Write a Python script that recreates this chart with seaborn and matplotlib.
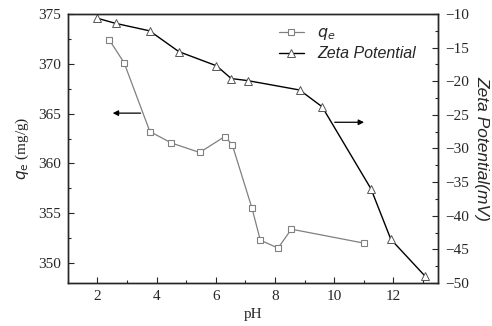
import numpy as np
import pandas as pd
import seaborn as sns
import matplotlib.pyplot as plt

# qe vs pH (left axis)
ph_q = [2.4, 2.9, 3.77, 4.5, 5.45, 6.3, 6.55, 7.22, 7.5, 8.1, 8.55, 11.0]
qe = [372.4, 370.1, 363.2, 362.05, 361.1, 362.7, 361.9, 355.5, 352.3, 351.5, 353.4, 352.0]

# zeta potential vs pH (right axis)
ph_z = [1.97, 2.62, 3.76, 4.75, 6.02, 6.52, 7.07, 8.83, 9.59, 11.24, 11.91, 13.05]
zeta = [-10.6, -11.4, -12.5, -15.6, -17.7, -19.6, -19.9, -21.3, -23.8, -36.0, -43.5, -48.9]

df_q = pd.DataFrame({'pH': ph_q, 'qe': qe})
df_z = pd.DataFrame({'pH': ph_z, 'zeta': zeta})

sns.set_style('ticks')
plt.rcParams['font.family'] = ['Liberation Serif', 'DejaVu Serif']
plt.rcParams['xtick.direction'] = 'in'
plt.rcParams['ytick.direction'] = 'in'

fig = plt.figure(figsize=(4.92, 3.26), dpi=100)
ax = fig.add_axes([0.138, 0.132, 0.752, 0.825])
ax2 = ax.twinx()

sns.lineplot(data=df_q, x='pH', y='qe', ax=ax, color='#808080', lw=0.9,
             marker='s', markersize=4.5, markerfacecolor='white',
             markeredgecolor='#808080', markeredgewidth=0.8, label='$q_{e}$', legend=False)
sns.lineplot(data=df_z, x='pH', y='zeta', ax=ax2, color='black', lw=1.0,
             marker='^', markersize=6, markerfacecolor='white',
             markeredgecolor='#555555', markeredgewidth=0.7, label='Zeta Potential', legend=False)

ax.set_xlim(1, 13.5)
ax.set_ylim(348, 375)
ax2.set_ylim(-50, -10)

ax.set_xticks([2, 4, 6, 8, 10, 12])
ax.set_xticks(np.arange(1, 14, 1), minor=True)
ax.set_yticks([350, 355, 360, 365, 370, 375])
ax.set_yticks(np.arange(350, 376, 2.5), minor=True)
ax2.set_yticks(np.arange(-50, -9, 5))
ax2.set_yticks(np.arange(-50, -9, 2.5), minor=True)

for a in (ax, ax2):
    a.tick_params(which='major', length=4, width=0.8, labelsize=11, pad=5)
    a.tick_params(which='minor', length=2, width=0.8)
    for s in a.spines.values():
        s.set_linewidth(1.0)
ax.tick_params(axis='x', which='both', top=False)

ax.set_xlabel('pH', fontsize=11, labelpad=4)
ax.set_ylabel('$q_{\\mathrm{e}}$ (mg/g)', fontsize=11, labelpad=5)
ax2.set_ylabel('Zeta Potential(mV)', fontsize=12.5, style='italic',
               family=['Liberation Sans', 'DejaVu Sans'], rotation=270, labelpad=15)

# arrows pointing to the respective axes
ax.annotate('', xy=(2.42, 365.05), xytext=(3.55, 365.05),
            arrowprops=dict(arrowstyle='-|>', color='black', lw=0.9, mutation_scale=8))
ax2.annotate('', xy=(11.1, -26.1), xytext=(9.92, -26.1),
             arrowprops=dict(arrowstyle='-|>', color='black', lw=0.9, mutation_scale=8))

h1, l1 = ax.get_legend_handles_labels()
h2, l2 = ax2.get_legend_handles_labels()
leg = ax2.legend(h1 + h2, l1 + l2, loc='upper right', bbox_to_anchor=(0.97, 1.0),
                 frameon=False, handlelength=1.6, borderaxespad=0.3,
                 labelspacing=0.25, prop={'family': ['Liberation Sans', 'DejaVu Sans'],
                                          'style': 'italic', 'size': 11.5})

fig.savefig('out.png', dpi=100)
